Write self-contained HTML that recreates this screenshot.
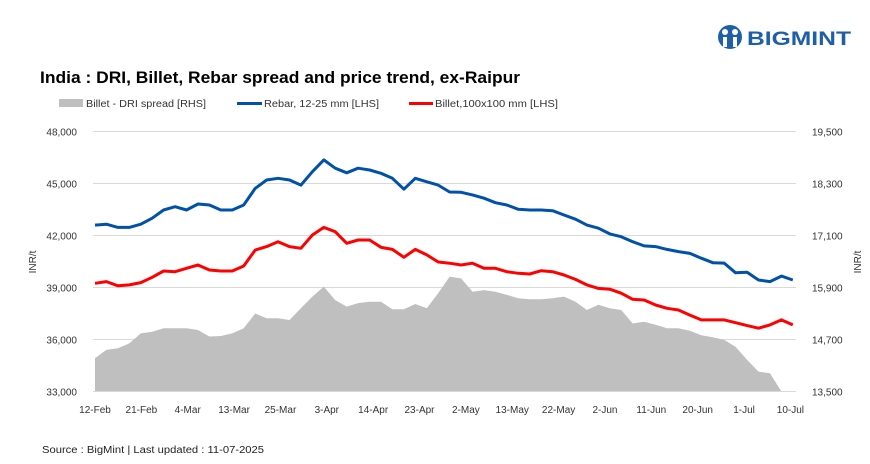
<!DOCTYPE html>
<html><head><meta charset="utf-8"><style>
body{margin:0;background:#fff;}
svg{display:block;font-family:"Liberation Sans",sans-serif;}
</style></head><body>
<svg id="chart" width="870" height="464">
<g>
<circle cx="730" cy="37" r="12" fill="#1f5fa8"/>
<circle cx="725" cy="32" r="3" fill="#fff"/><circle cx="735" cy="32" r="3" fill="#fff"/>
<rect x="723" y="37" width="4" height="10" fill="#fff"/><rect x="733" y="37" width="4" height="10" fill="#fff"/>
<text x="747" y="45" font-size="19" font-weight="bold" fill="#1f5fa8" textLength="104" lengthAdjust="spacingAndGlyphs">BIGMINT</text>
</g>
<text x="40" y="83" font-size="17" font-weight="bold" fill="#000" textLength="480" lengthAdjust="spacingAndGlyphs">India : DRI, Billet, Rebar spread and price trend, ex-Raipur</text>
<g font-size="10" fill="#333">
<g><rect x="59" y="99" width="24" height="8" fill="#bfbfbf"/><text x="86" y="107" textLength="120" lengthAdjust="spacingAndGlyphs">Billet - DRI spread  [RHS]</text></g>
<g><rect x="237" y="102" width="25" height="3" fill="#0051a8"/><text x="264" y="107" textLength="115" lengthAdjust="spacingAndGlyphs">Rebar, 12-25 mm [LHS]</text></g>
<g><rect x="409" y="102" width="24" height="3" fill="#ff0000"/><text x="435" y="107" textLength="123" lengthAdjust="spacingAndGlyphs">Billet,100x100 mm [LHS]</text></g>
</g>
<g id="plot"></g>
<text transform="translate(36,262) rotate(-90)" text-anchor="middle" font-size="10" fill="#333">INR/t</text>
<text transform="translate(861,262) rotate(-90)" text-anchor="middle" font-size="10" fill="#333">INR/t</text>
<text x="42" y="453" font-size="10" fill="#222" textLength="222" lengthAdjust="spacingAndGlyphs">Source : BigMint | Last updated : 11-07-2025</text>
</svg>
<script>
const xLabels=["12-Feb","21-Feb","4-Mar","13-Mar","25-Mar","3-Apr","14-Apr","23-Apr","2-May","13-May","22-May","2-Jun","11-Jun","20-Jun","1-Jul","10-Jul"];
const leftTicks=[33000,36000,39000,42000,45000,48000];
const rightTicks=[13500,14700,15900,17100,18300,19500];
const rebar=[42600,42650,42470,42470,42650,43000,43470,43660,43470,43820,43760,43470,43470,43760,44720,45200,45300,45200,44910,45680,46360,45880,45620,45880,45780,45590,45300,44670,45300,45100,44910,44510,44490,44340,44150,43890,43760,43510,43470,43470,43430,43180,42940,42600,42420,42090,41930,41640,41400,41360,41200,41070,40970,40690,40430,40410,39850,39880,39430,39340,39660,39430];
const billet=[39240,39340,39100,39150,39280,39590,39950,39910,40110,40300,40010,39950,39950,40240,41160,41360,41640,41360,41260,42030,42470,42220,41550,41740,41740,41320,41200,40740,41200,40880,40470,40400,40300,40400,40110,40110,39910,39820,39780,39970,39910,39720,39470,39150,38950,38900,38670,38320,38280,37990,37800,37700,37410,37130,37130,37130,36970,36800,36650,36840,37130,36840];
const spread=[14270,14460,14500,14610,14840,14880,14960,14960,14960,14920,14770,14780,14840,14960,15300,15190,15190,15150,15420,15690,15920,15610,15460,15540,15570,15570,15400,15400,15520,15420,15770,16150,16110,15800,15840,15800,15730,15650,15630,15630,15650,15690,15570,15380,15500,15420,15380,15070,15110,15040,14960,14960,14900,14800,14750,14690,14530,14230,13960,13920,13500,13500];
const NS="http://www.w3.org/2000/svg";
const g=document.getElementById('plot');
const X0=95,DX=11.44,TOP=131.5,BOT=391.5,XR=796;
function xs(i){return X0+DX*i;}
function yl(v){return BOT-(v-33000)/15000*(BOT-TOP);}
function yr(v){return BOT-(v-13500)/6000*(BOT-TOP);}
function mk(t,a){const e=document.createElementNS(NS,t);for(const k in a)e.setAttribute(k,a[k]);g.appendChild(e);return e;}
leftTicks.forEach((v,i)=>{
 const y=yl(v);
 if(i>0){const l=mk('line',{x1:X0-2,x2:XR,y1:y,y2:y,stroke:'#d9d9d9','stroke-width':1});
 
 }
 const t=mk('text',{x:77,y:y+4,'text-anchor':'end','font-size':10,fill:'#333'});t.textContent=v.toLocaleString('en-US');
 
 
});
rightTicks.forEach(v=>{
 const t=mk('text',{x:812,y:yr(v)+4,'font-size':10,fill:'#333'});t.textContent=v.toLocaleString('en-US');
 
 
});
let d='M'+xs(0)+','+yr(13500);
spread.forEach((v,i)=>{d+=' L'+xs(i).toFixed(1)+','+yr(v).toFixed(1);});
d+=' L'+xs(spread.length-1)+','+yr(13500)+'Z';
const a=mk('path',{d:d,fill:'#bfbfbf'});


const ax=mk('line',{x1:X0-2,x2:XR,y1:BOT,y2:BOT,stroke:'#d9d9d9','stroke-width':1});


function line(arr,col,name){
 const p=mk('polyline',{points:arr.map((v,i)=>xs(i).toFixed(1)+','+yl(v).toFixed(1)).join(' '),fill:'none',stroke:col,'stroke-width':3,'stroke-linejoin':'round'});
 
 
}
line(billet,'#ff0000','billet-line');
line(rebar,'#0051a8','rebar-line');
xLabels.forEach((s,i)=>{
 const t=mk('text',{x:xs(i*4)+(i*0.6),y:413,'text-anchor':'middle','font-size':10,fill:'#333'});t.textContent=s;
 
 
});
</script>
</body></html>
